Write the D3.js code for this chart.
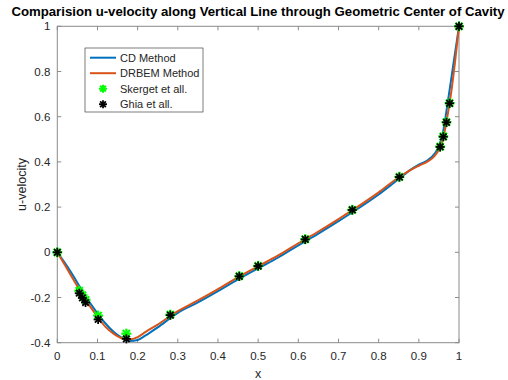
<!DOCTYPE html>
<html lang="en">
<head>
<meta charset="UTF-8">
<title>u-velocity along vertical line</title>
<script src="https://d3js.org/d3.v7.min.js"></script>
<style>
  body { margin: 0; background: #fff; }
  svg { font-family: "Liberation Sans", Arial, sans-serif; }
</style>
</head>
<body>
<div id="chart"></div>
<script>
// curve data
const cdX = [0, 0.02, 0.04, 0.06, 0.08, 0.10, 0.12, 0.14, 0.16, 0.18, 0.20, 0.22, 0.25, 0.30, 0.35, 0.40, 0.45, 0.50, 0.55, 0.60, 0.65, 0.70, 0.75, 0.80, 0.85, 0.88, 0.90, 0.92, 0.94, 0.95, 0.96, 0.97, 0.98, 0.99, 1.0];
const cdU = [0, -0.05, -0.105, -0.165, -0.22, -0.27, -0.315, -0.352, -0.378, -0.392, -0.388, -0.368, -0.332, -0.268, -0.222, -0.172, -0.12, -0.071, -0.023, 0.031, 0.083, 0.138, 0.195, 0.256, 0.325, 0.366, 0.388, 0.405, 0.438, 0.47, 0.53, 0.64, 0.76, 0.88, 1.0];
const drbemX = cdX;
const drbemU = [0, -0.06, -0.12, -0.18, -0.235, -0.285, -0.33, -0.36, -0.38, -0.385, -0.375, -0.352, -0.32, -0.26, -0.213, -0.163, -0.11, -0.062, -0.014, 0.04, 0.092, 0.147, 0.204, 0.265, 0.332, 0.365, 0.383, 0.4, 0.428, 0.455, 0.5, 0.59, 0.70, 0.84, 1.0];

// reference points
const ghiaX = [0, 0.0547, 0.0625, 0.0703, 0.1016, 0.1719, 0.2813, 0.4531, 0.5, 0.6172, 0.7344, 0.8516, 0.9531, 0.9609, 0.9688, 0.9766, 1.0];
const ghiaU = [0, -0.18109, -0.20196, -0.2222, -0.2973, -0.38289, -0.27805, -0.10648, -0.0608, 0.05702, 0.18719, 0.33304, 0.46604, 0.51117, 0.57492, 0.65928, 1.0];
const skergetX = ghiaX;
const skergetU = [0, -0.17, -0.19, -0.21, -0.28, -0.36, -0.276, -0.105, -0.06, 0.058, 0.188, 0.334, 0.468, 0.513, 0.576, 0.66, 1.0];

const xTicks = [0, 0.1, 0.2, 0.3, 0.4, 0.5, 0.6, 0.7, 0.8, 0.9, 1];
const yTicks = [-0.4, -0.2, 0, 0.2, 0.4, 0.6, 0.8, 1];
const legendNames = ["CD Method", "DRBEM Method", "Skerget et all.", "Ghia et all."];

const width = 508, height = 380;
const margin = {left: 57.3, right: 49, top: 26.3, bottom: 37.3};

const svg = d3.select("#chart").append("svg")
    .attr("width", width)
    .attr("height", height);

const x = d3.scaleLinear().domain([0, 1]).range([margin.left, width - margin.right]);
const y = d3.scaleLinear().domain([-0.4, 1]).range([height - margin.bottom, margin.top]);

const axisColor = "#8a8a8a";
const textColor = "#262626";

// ticks (inward, on all four sides)
const tl = 4;
xTicks.forEach(t => {
    svg.append("line").attr("x1", x(t)).attr("x2", x(t))
        .attr("y1", y(-0.4)).attr("y2", y(-0.4) - tl)
        .attr("stroke", axisColor).attr("stroke-width", 1);
    svg.append("line").attr("x1", x(t)).attr("x2", x(t))
        .attr("y1", y(1)).attr("y2", y(1) + tl)
        .attr("stroke", axisColor).attr("stroke-width", 1);
    svg.append("text").attr("x", x(t)).attr("y", y(-0.4) + 17)
        .attr("text-anchor", "middle").attr("font-size", 11.5)
        .attr("fill", textColor).text(t);
});
yTicks.forEach(t => {
    svg.append("line").attr("x1", x(0)).attr("x2", x(0) + tl)
        .attr("y1", y(t)).attr("y2", y(t))
        .attr("stroke", axisColor).attr("stroke-width", 1);
    svg.append("line").attr("x1", x(1)).attr("x2", x(1) - tl)
        .attr("y1", y(t)).attr("y2", y(t))
        .attr("stroke", axisColor).attr("stroke-width", 1);
    svg.append("text").attr("x", x(0) - 7).attr("y", y(t) + 4)
        .attr("text-anchor", "end").attr("font-size", 11.5)
        .attr("fill", textColor).text(t);
});

// box
svg.append("rect")
    .attr("x", x(0)).attr("y", y(1))
    .attr("width", x(1) - x(0)).attr("height", y(-0.4) - y(1))
    .attr("fill", "none").attr("stroke", axisColor).attr("stroke-width", 1);

// lines
const line = d3.line()
    .x(d => x(d[0]))
    .y(d => y(d[1]))
    .curve(d3.curveMonotoneX);

svg.append("path")
    .datum(cdX.map((v, i) => [v, cdU[i]]))
    .attr("d", line).attr("fill", "none")
    .attr("stroke", "#0072BD").attr("stroke-width", 2);

svg.append("path")
    .datum(drbemX.map((v, i) => [v, drbemU[i]]))
    .attr("d", line).attr("fill", "none")
    .attr("stroke", "#D95319").attr("stroke-width", 2);

// asterisk marker
function star(g, cx, cy, r, color, sw) {
    const a = r * 0.72;
    const segs = [[-r, 0, r, 0], [0, -r, 0, r], [-a, -a, a, a], [-a, a, a, -a]];
    segs.forEach(s => {
        g.append("line")
            .attr("x1", cx + s[0]).attr("y1", cy + s[1])
            .attr("x2", cx + s[2]).attr("y2", cy + s[3])
            .attr("stroke", color).attr("stroke-width", sw);
    });
}

const marks = svg.append("g");
skergetX.forEach((v, i) => star(marks, x(v), y(skergetU[i]), 5, "#00ff00", 2.2));
ghiaX.forEach((v, i) => star(marks, x(v), y(ghiaU[i]), 4.5, "#000", 1.8));

// legend
const lg = svg.append("g");
lg.append("rect").attr("x", 85).attr("y", 48).attr("width", 118).attr("height", 64)
    .attr("fill", "#fff").attr("stroke", "#262626").attr("stroke-width", 0.6);
legendNames.forEach((name, i) => {
    const ly = 57.7 + i * 15.5;
    if (i === 0 || i === 1) {
        lg.append("line").attr("x1", 90).attr("x2", 116).attr("y1", ly).attr("y2", ly)
            .attr("stroke", i === 0 ? "#0072BD" : "#D95319").attr("stroke-width", 2);
    } else if (i === 2) {
        star(lg, 103, ly, 4, "#00ff00", 2);
    } else {
        star(lg, 103, ly, 4, "#000", 1.8);
    }
    lg.append("text").attr("x", 120).attr("y", ly + 4)
        .attr("font-size", 11).attr("fill", textColor).text(name);
});

// title and labels
svg.append("text").attr("x", 258).attr("y", 16)
    .attr("text-anchor", "middle").attr("font-size", 13.2).attr("font-weight", "bold")
    .attr("fill", "#000")
    .text("Comparision u-velocity along Vertical Line through Geometric Center of Cavity");

svg.append("text").attr("x", 258).attr("y", 378)
    .attr("text-anchor", "middle").attr("font-size", 12.5).attr("fill", textColor).text("x");

svg.append("text")
    .attr("transform", `translate(26, ${y(0.3)}) rotate(-90)`)
    .attr("text-anchor", "middle").attr("font-size", 12.5).attr("fill", textColor)
    .text("u-velocity");
</script>
</body>
</html>
